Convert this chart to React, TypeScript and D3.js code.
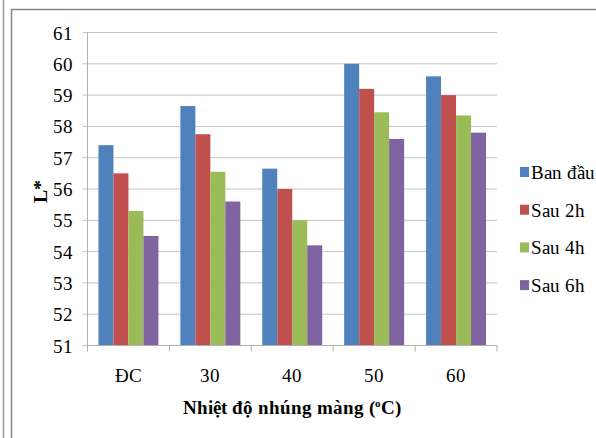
import React from "react";
import * as d3 from "d3";

const categories = ["ĐC", "30", "40", "50", "60"];
const seriesNames = ["Ban đầu", "Sau 2h", "Sau 4h", "Sau 6h"];
const banDau = [57.4, 58.65, 56.65, 60.0, 59.6];
const sau2h = [56.5, 57.75, 56.0, 59.2, 59.0];
const sau4h = [55.3, 56.55, 55.0, 58.45, 58.35];
const sau6h = [54.5, 55.6, 54.2, 57.6, 57.8];
const yTicks = [51, 52, 53, 54, 55, 56, 57, 58, 59, 60, 61];
const colors = ["#4F81BD", "#C0504D", "#9BBB59", "#8064A2"];

const seriesValues = [banDau, sau2h, sau4h, sau6h];

const W = 596;
const H = 438;
const plotLeft = 87.5;
const plotRight = 497;
const plotTop = 32.5;
const plotBottom = 345.5;
const FONT = "ChartSerif, Liberation Serif, Times New Roman, serif";

const fontCss = `
@font-face { font-family: "ChartSerif"; src: local("Liberation Serif"), local("LiberationSerif"), local("Times New Roman"); font-weight: 400; }
@font-face { font-family: "ChartSerif"; src: local("Liberation Serif Bold"), local("LiberationSerif-Bold"), local("Times New Roman Bold"); font-weight: 700; }
.ct { font-family: ChartSerif, "Liberation Serif", "Times New Roman", serif; }
`;

export default function App() {
  const y = d3.scaleLinear().domain([51, 61]).range([plotBottom, plotTop]);
  const x0 = d3
    .scaleBand<string>()
    .domain(categories)
    .range([plotLeft, plotRight])
    .paddingInner(0.268)
    .paddingOuter(0.134);
  const x1 = d3
    .scaleBand<string>()
    .domain(seriesNames)
    .range([0, x0.bandwidth()]);
  const step = x0.step();

  return (
    <svg
      width={W}
      height={H}
      style={{ position: "absolute", left: 0, top: 0, background: "#fff" }}
    >
      <style>{fontCss}</style>
      <rect x={0} y={0} width={W} height={H} fill="#fff" />
      {/* frames */}
      <line x1={3.5} x2={3.5} y1={0} y2={H} stroke="#999" strokeWidth={1.5} />
      <path
        d={`M11.5,${H} L11.5,9.5 L${W},9.5`}
        fill="none"
        stroke="#888"
        strokeWidth={1.5}
      />

      {/* gridlines */}
      {yTicks.map((t) => (
        <line
          key={t}
          x1={plotLeft - 5}
          x2={plotRight}
          y1={y(t)}
          y2={y(t)}
          stroke="#c4c4c4"
          strokeWidth={1}
        />
      ))}

      {/* bars */}
      {categories.map((c, ci) => (
        <g key={c} transform={`translate(${x0(c)},0)`}>
          {seriesNames.map((s, si) => {
            const v = seriesValues[si][ci];
            return (
              <rect
                key={s}
                x={x1(s)}
                y={y(v)}
                width={x1.bandwidth()}
                height={y(51) - y(v)}
                fill={colors[si]}
              />
            );
          })}
        </g>
      ))}

      {/* axes */}
      <line x1={plotLeft} x2={plotLeft} y1={plotTop} y2={plotBottom} stroke="#b0b0b0" />
      <line x1={plotLeft} x2={plotRight} y1={plotBottom} y2={plotBottom} stroke="#b0b0b0" />
      {d3.range(categories.length + 1).map((i) => (
        <line
          key={"t" + i}
          x1={plotLeft + i * step}
          x2={plotLeft + i * step}
          y1={plotBottom}
          y2={plotBottom + 6}
          stroke="#b0b0b0"
        />
      ))}

      <g className="ct" fill="#000">
        {/* y tick labels */}
        {yTicks.map((t) => (
          <text key={"l" + t} className="ct" x={73} y={y(t) + 7} textAnchor="end" fontSize={19}>
            {t}
          </text>
        ))}

        {/* category labels */}
        {categories.map((c) => (
          <text
            key={"c" + c}
            className="ct"
            x={(x0(c) as number) + x0.bandwidth() / 2}
            y={382}
            textAnchor="middle"
            fontSize={19}
          >
            {c}
          </text>
        ))}

        {/* axis titles */}
        <text className="ct" x={292} y={414} textAnchor="middle" fontSize={18.5} fontWeight={700}>
          Nhiệt độ nhúng màng (
          <tspan fontSize={11} dy={-7}>o</tspan>
          <tspan dy={7}>C)</tspan>
        </text>
        <text
          className="ct"
          transform="translate(47,191) rotate(-90)"
          textAnchor="middle"
          fontSize={20}
          fontWeight={700}
        >
          L*
        </text>

        {/* legend */}
        {seriesNames.map((s, i) => {
          const cy = 172 + i * 37.7;
          return (
            <g key={"lg" + s}>
              <rect x={520} y={cy - 5} width={9} height={10} fill={colors[i]} />
              <text className="ct" x={531} y={cy + 7} fontSize={19}>
                {s}
              </text>
            </g>
          );
        })}
      </g>
    </svg>
  );
}
